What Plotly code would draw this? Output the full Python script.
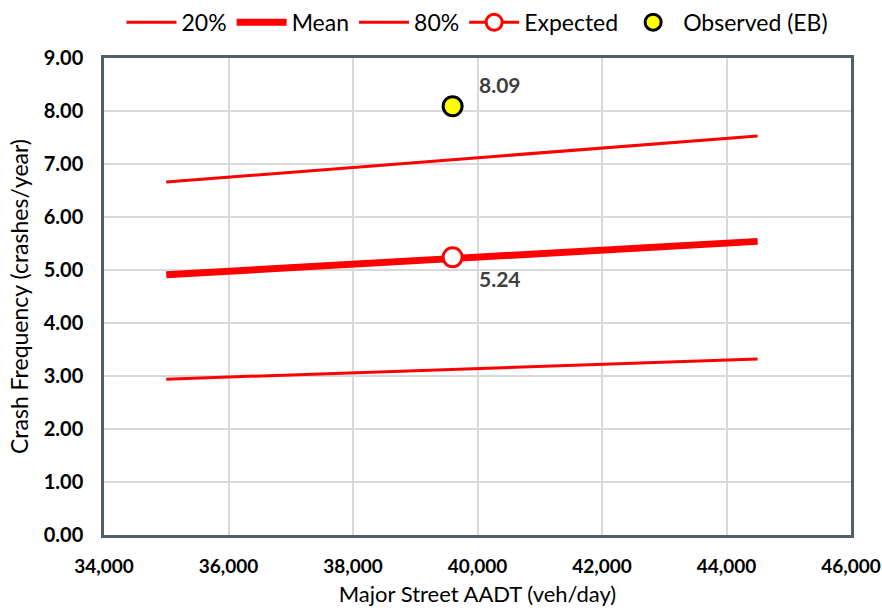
import plotly.graph_objects as go

# Data
aadt = [35000, 44500]
p20 = [2.94, 3.32]
mean = [4.91, 5.54]
p80 = [6.66, 7.53]
site_aadt = [39600]
expected = [5.24]
observed = [8.09]

x_ticks = [34000, 36000, 38000, 40000, 42000, 44000, 46000]
x_ticklabels = ["34,000", "36,000", "38,000", "40,000", "42,000", "44,000", "46,000"]
y_ticks = [0, 1, 2, 3, 4, 5, 6, 7, 8, 9]
y_ticklabels = ["0.00", "1.00", "2.00", "3.00", "4.00", "5.00", "6.00", "7.00", "8.00", "9.00"]

RED = "#ff0000"
FONT = "Lato"
LABEL_COLOR = "#404040"

fig = go.Figure()
fig.add_trace(go.Scatter(x=aadt, y=p20, mode="lines", name="20%",
                         line=dict(color=RED, width=3)))
fig.add_trace(go.Scatter(x=aadt, y=mean, mode="lines", name="Mean",
                         line=dict(color=RED, width=7)))
fig.add_trace(go.Scatter(x=aadt, y=p80, mode="lines", name="80%",
                         line=dict(color=RED, width=3)))
fig.add_trace(go.Scatter(x=site_aadt, y=expected, mode="lines+markers", name="Expected",
                         line=dict(color=RED, width=3),
                         marker=dict(size=19, color="white", line=dict(color=RED, width=3))))
fig.add_trace(go.Scatter(x=site_aadt, y=observed, mode="markers", name="Observed (EB)",
                         marker=dict(size=19, color="#ffff00", line=dict(color="black", width=3))))

# data labels
fig.add_annotation(x=site_aadt[0], y=observed[0], text=f"{observed[0]:.2f}", showarrow=False,
                   xshift=47, yshift=22,
                   font=dict(family=FONT, size=21, color=LABEL_COLOR, weight="bold"))
fig.add_annotation(x=site_aadt[0], y=expected[0], text=f"{expected[0]:.2f}", showarrow=False,
                   xshift=47, yshift=-21,
                   font=dict(family=FONT, size=21, color=LABEL_COLOR, weight="bold"))

fig.update_layout(
    width=882, height=612,
    margin=dict(l=104, r=31, t=58, b=77, autoexpand=False),
    paper_bgcolor="white", plot_bgcolor="white",
    font=dict(family=FONT, color="black"),
    showlegend=True,
    legend=dict(orientation="h", x=0.5, xanchor="center", y=1.075, yanchor="middle",
                bgcolor="rgba(0,0,0,0)",
                font=dict(family=FONT, size=23, color="black"),
                itemwidth=50, traceorder="normal"),
    xaxis=dict(range=[34000, 46000], tickvals=x_ticks, ticktext=x_ticklabels,
               showgrid=True, gridcolor="#d9d9d9", gridwidth=1.5,
               showline=True, linecolor="#4f5f6e", linewidth=2.5, mirror=True,
               ticks="", zeroline=False, ticklabelstandoff=12, ticklabeloverflow="allow",
               tickfont=dict(family=FONT, size=19, color="black", weight="bold"),
               title=dict(text="Major Street AADT (veh/day)", font=dict(family=FONT, size=22),
                          standoff=12)),
    yaxis=dict(range=[0, 9], tickvals=y_ticks, ticktext=y_ticklabels,
               showgrid=True, gridcolor="#d9d9d9", gridwidth=1.5,
               showline=True, linecolor="#4f5f6e", linewidth=2.5, mirror=True,
               ticks="", zeroline=False, ticklabelstandoff=14,
               tickfont=dict(family=FONT, size=20, color="black", weight="bold"),
               title=dict(text="Crash Frequency (crashes/year)", font=dict(family=FONT, size=23),
                          standoff=9)),
)

# remove the browser's default 8px page margin so the figure fills the window exactly
fig.write_html("out.html",
               config={"displayModeBar": False},
               post_script="document.body.style.margin='0';document.body.style.overflow='hidden';")
